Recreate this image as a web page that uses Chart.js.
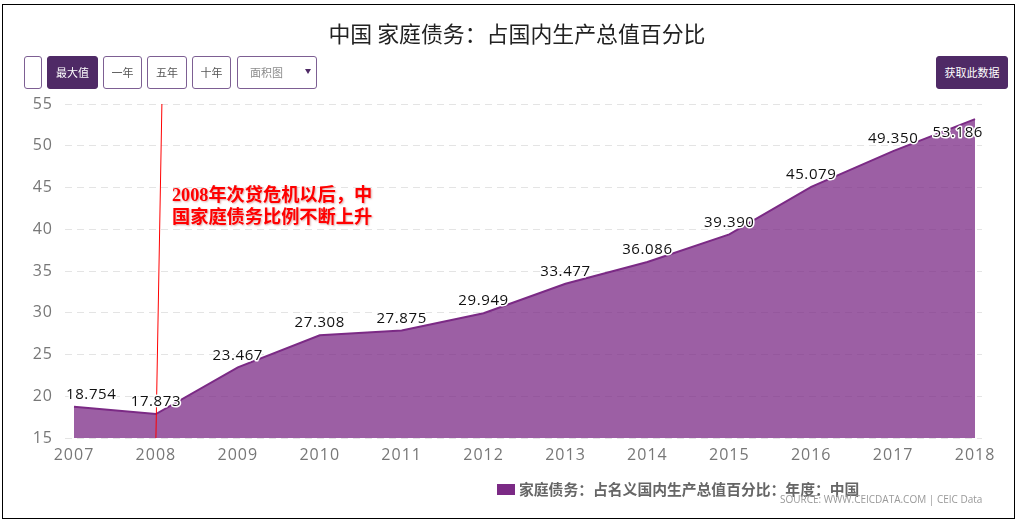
<!DOCTYPE html>
<html>
<head>
<meta charset="utf-8">
<script src="https://cdn.jsdelivr.net/npm/chart.js@4/dist/chart.umd.min.js"></script>
<style>
    html, body { margin: 0; padding: 0; background: #fff; }
    body { width: 1020px; height: 524px; position: relative; overflow: hidden; font-family: "Noto Sans CJK SC", sans-serif; }
    canvas { position: absolute; left: 0; top: 0; }
    .frame { position: absolute; left: 2px; top: 4px; width: 1011px; height: 513px; border: 1.5px solid #000; }
    .title { position: absolute; left: 17px; width: 1000px; top: 17px; text-align: center; font-size: 21.9px; line-height: 32px; color: #222; }
    .btn { position: absolute; top: 56px; height: 31px; line-height: 31px; border: 1px solid #7d5f93; border-radius: 3px; background: #fff; color: #555; font-size: 11px; text-align: center; box-sizing: content-box; }
    .btn.on { background: #4f2a66; border-color: #4f2a66; color: #fff; }
    .arrow { position: absolute; left: 305px; top: 69px; width: 0; height: 0; border-left: 3px solid transparent; border-right: 3px solid transparent; border-top: 5px solid #4f2a66; }
    .note { position: absolute; left: 172px; top: 184px; width: 215px; font: bold 18.2px/22px "Liberation Serif", "Noto Sans CJK SC", serif; color: #f00; text-shadow: 1px 1px 2px rgba(150, 0, 0, 0.35); }
    .legend-box { position: absolute; left: 497px; top: 484px; width: 18px; height: 11px; background: #7b2a85; }
    .legend-text { position: absolute; left: 519px; top: 479px; font-size: 14.8px; line-height: 20px; font-weight: 700; color: #666; white-space: nowrap; }
    .source { position: absolute; left: 780px; top: 492px; font: 10px/14px "Open Sans", sans-serif; color: #999; white-space: nowrap; }
</style>
</head>
<body>
<canvas id="debtChart" width="1020" height="524"></canvas>
<div class="frame"></div>
<div class="title">中国 家庭债务：占国内生产总值百分比</div>
<div class="btn" style="left:24px;width:16px"></div>
<div class="btn on" style="left:47px;width:49px">最大值</div>
<div class="btn" style="left:103px;width:37px">一年</div>
<div class="btn" style="left:147px;width:38px">五年</div>
<div class="btn" style="left:192px;width:37px">十年</div>
<div class="btn" style="left:237px;width:78px;text-align:left;text-indent:12px;color:#8b8b8b">面积图</div>
<div class="arrow"></div>
<div class="btn on" style="left:936px;width:70px">获取此数据</div>
<div class="note">2008年次贷危机以后，中<br>国家庭债务比例不断上升</div>
<div class="legend-box"></div>
<div class="legend-text">家庭债务：占名义国内生产总值百分比：年度：中国</div>
<div class="source">SOURCE: WWW.CEICDATA.COM | CEIC Data</div>
<script>
const years = [2007, 2008, 2009, 2010, 2011, 2012, 2013, 2014, 2015, 2016, 2017, 2018];
const debtRatio = [18.754, 17.873, 23.467, 27.308, 27.875, 29.949, 33.477, 36.086, 39.390, 45.079, 49.350, 53.186];
const annoLineX = [2008, 2008.073];
const annoLineY = [15, 55];

// letter spacing is not a Chart.js font option
const spacingPlugin = {
    id: "spacing",
    beforeDraw(chart) {
        chart.ctx.letterSpacing = "1px";
    }
};

const overlayPlugin = {
    id: "overlay",
    afterDatasetsDraw(chart) {
        const ctx = chart.ctx;
        const x = chart.scales.x;
        const y = chart.scales.y;

        ctx.save();
        ctx.strokeStyle = "#f00";
        ctx.lineWidth = 1;
        ctx.beginPath();
        ctx.moveTo(x.getPixelForValue(annoLineX[0]), y.getPixelForValue(annoLineY[0]));
        ctx.lineTo(x.getPixelForValue(annoLineX[1]), y.getPixelForValue(annoLineY[1]));
        ctx.stroke();

        ctx.font = '15px "Open Sans", sans-serif';
        ctx.letterSpacing = "0.6px";
        ctx.textAlign = "center";
        ctx.textBaseline = "middle";
        ctx.lineJoin = "round";
        debtRatio.forEach((v, i) => {
            const label = v.toFixed(3);
            const halfW = ctx.measureText(label).width / 2;
            let px = x.getPixelForValue(years[i]);
            let py = y.getPixelForValue(v) - 12;
            // keep labels inside the plot, the last one flips below its point
            px = Math.max(chart.chartArea.left + 1 + halfW, Math.min(chart.chartArea.right + 1 - halfW, px));
            if (i === debtRatio.length - 1) py += 26;
            ctx.strokeStyle = "#fff";
            ctx.lineWidth = 3;
            ctx.strokeText(label, px, py);
            ctx.fillStyle = "#111";
            ctx.fillText(label, px, py);
        });
        ctx.restore();
    }
};

new Chart(document.getElementById("debtChart").getContext("2d"), {
    type: "line",
    data: {
        datasets: [{
            label: "家庭债务：占名义国内生产总值百分比：年度：中国",
            data: years.map((yr, i) => ({ x: yr, y: debtRatio[i] })),
            borderColor: "#7b2a85",
            backgroundColor: "rgba(123, 42, 133, 0.75)",
            borderWidth: 2,
            pointRadius: 0,
            tension: 0,
            fill: "start"
        }]
    },
    options: {
        responsive: false,
        animation: false,
        layout: { padding: { left: 25, right: 38, top: 104, bottom: 56 } },
        plugins: { legend: { display: false }, tooltip: { enabled: false } },
        scales: {
            x: {
                type: "linear",
                min: 2006.89,
                max: 2018.085,
                grid: { display: false },
                border: { display: false },
                afterBuildTicks(scale) {
                    scale.ticks = years.map(v => ({ value: v }));
                },
                afterFit(scale) {
                    scale.height = 30;
                },
                ticks: {
                    autoSkip: false,
                    maxRotation: 0,
                    padding: 0,
                    color: "#777",
                    font: { family: "Open Sans", size: 16 },
                    callback: v => String(v)
                }
            },
            y: {
                min: 15,
                max: 55,
                grid: { color: "#e4e4e4", drawTicks: false, lineWidth: 1 },
                border: { display: false, dash: [7, 5] },
                afterFit(scale) {
                    scale.width = 40;
                },
                ticks: {
                    stepSize: 5,
                    padding: 12,
                    color: "#777",
                    font: { family: "Open Sans", size: 16 }
                }
            }
        }
    },
    plugins: [spacingPlugin, overlayPlugin]
});
</script>
</body>
</html>
